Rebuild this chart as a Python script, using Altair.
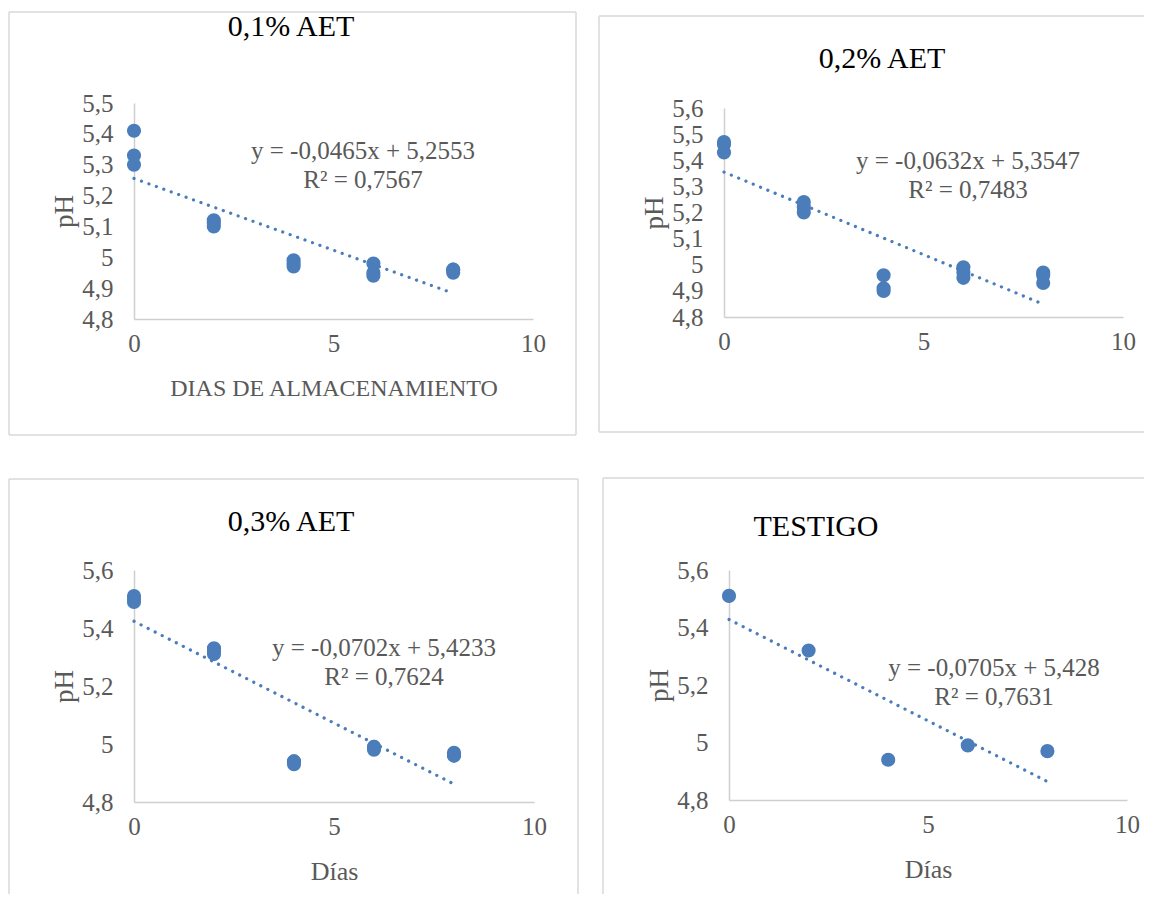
import altair as alt
import pandas as pd

# ---------------- data ----------------
days = [0, 2, 4, 6, 8]

ph_01 = [[5.41, 5.33, 5.30], [5.12, 5.11, 5.10], [4.99, 4.98, 4.97], [4.98, 4.95, 4.94], [4.96, 4.96, 4.95]]
ph_02 = [[5.47, 5.46, 5.43], [5.24, 5.22, 5.20], [4.96, 4.91, 4.90], [4.99, 4.97, 4.95], [4.97, 4.96, 4.93]]
ph_03 = [[5.51, 5.50, 5.49], [5.33, 5.32, 5.31], [4.94, 4.94, 4.93], [4.99, 4.99, 4.98], [4.97, 4.96, 4.96]]
ph_testigo = [[5.51], [5.32], [4.94], [4.99], [4.97]]

series = [ph_01, ph_02, ph_03, ph_testigo]
titles = ["0,1% AET", "0,2%  AET", "0,3% AET", "TESTIGO"]
slopes = [-0.0465, -0.0632, -0.0702, -0.0705]
intercepts = [5.2553, 5.3547, 5.4233, 5.428]
equations = ["y = -0,0465x + 5,2553", "y = -0,0632x + 5,3547",
             "y = -0,0702x + 5,4233", "y = -0,0705x + 5,428"]
r2_labels = ["R² = 0,7567", "R² = 0,7483", "R² = 0,7624", "R² = 0,7631"]
trend_x = [0, 8]
x_domain = [0, 10]
x_ticks = [0, 5, 10]
y_domains = [[4.8, 5.5], [4.8, 5.6], [4.8, 5.6], [4.8, 5.6]]
y_ticks = [
    [4.8, 4.9, 5.0, 5.1, 5.2, 5.3, 5.4, 5.5],
    [4.8, 4.9, 5.0, 5.1, 5.2, 5.3, 5.4, 5.5, 5.6],
    [4.8, 5.0, 5.2, 5.4, 5.6],
    [4.8, 5.0, 5.2, 5.4, 5.6],
]
x_titles = ["DIAS DE ALMACENAMIENTO", "", "Días", "Días"]
y_title = "pH"

# ---------------- style ----------------
FONT = "Liberation Serif"
PT = "#4a7dba"
GRAY = "#595959"
AXIS_LINE = "#cfcfcf"
BOX = "#d9d9d9"

dummy = pd.DataFrame({"a": [0]})


def seg(x1, x2, y1, y2):
    return alt.Chart(dummy).mark_rule(color=BOX, strokeWidth=1.5).encode(
        x=alt.value(x1), x2=alt.value(x2), y=alt.value(y1), y2=alt.value(y2))


def panel(i, w, h, yrange, box_segments, title_pos, eq_pos, xtitle_size):
    rows = []
    for d, vals in zip(days, series[i]):
        for v in vals:
            rows.append({"dia": d, "ph": v})
    df = pd.DataFrame(rows)
    trend = pd.DataFrame({"dia": trend_x,
                          "ph": [intercepts[i] + slopes[i] * t for t in trend_x]})

    scale_kw = dict(domain=y_domains[i], nice=False, zero=False)
    if yrange is not None:
        scale_kw["range"] = yrange
    yscale = alt.Scale(**scale_kw)
    xscale = alt.Scale(domain=x_domain, nice=False, zero=False)

    xaxis = alt.Axis(values=x_ticks, grid=False, ticks=False, domainColor=AXIS_LINE,
                     domainWidth=1.5, labelFont=FONT, labelFontSize=25, labelColor=GRAY,
                     labelPadding=12, labelBaseline="top", labelFlush=False,
                     labelOverlap=False, titleFont=FONT, titleFontSize=xtitle_size,
                     titleFontWeight="normal", titleColor=GRAY, titleY=69,
                     titleBaseline="middle")
    yaxis = alt.Axis(values=y_ticks[i], tickCount=len(y_ticks[i]), grid=False, ticks=False,
                     domainColor=AXIS_LINE,
                     domainWidth=1.5, labelFont=FONT, labelFontSize=25, labelColor=GRAY,
                     labelPadding=21, format=".1~f", labelFlush=False, labelOverlap=False,
                     labelExpr="replace(datum.label, '.', ',')",
                     titleFont=FONT, titleFontSize=27, titleFontWeight="normal",
                     titleColor=GRAY, titleX=-70, titleBaseline="middle", titleAngle=270)

    xt = x_titles[i] if x_titles[i] else None
    x_enc = alt.X("dia:Q", scale=xscale, title=xt, axis=xaxis)
    y_enc = alt.Y("ph:Q", scale=yscale, title=y_title, axis=yaxis)

    pts = alt.Chart(df).mark_circle(size=200, color=PT, opacity=1).encode(x=x_enc, y=y_enc)
    line = alt.Chart(trend).mark_line(color=PT, strokeWidth=3.2, strokeDash=[0.1, 7.8],
                                      strokeCap="round").encode(x=x_enc, y=y_enc)
    eq = alt.Chart(dummy).mark_text(font=FONT, fontSize=25, color=GRAY, align="center",
                                    baseline="alphabetic", lineBreak="\n",
                                    lineHeight=29).encode(
        x=alt.value(eq_pos[0]), y=alt.value(eq_pos[1]),
        text=alt.value(equations[i] + "\n" + r2_labels[i]))
    ttl = alt.Chart(dummy).mark_text(font=FONT, fontSize=30, color="#000000",
                                     align="center", baseline="alphabetic").encode(
        x=alt.value(title_pos[0]), y=alt.value(title_pos[1]), text=alt.value(titles[i]))

    layers = [pts, line] + [seg(*s) for s in box_segments] + [eq, ttl]
    return alt.layer(*layers).properties(width=w, height=h)


# panel 1 (top-left): plot at (133,102) in page
p1 = panel(0, 399, 216, None,
           [(-125, 442, -91, -91), (-125, 442, 332, 332), (-125, -125, -91, 332), (442, 442, -91, 332)],
           (157, -67), (229, 56), 24)
# panel 2 (top-right): plot origin at (723,102), y-range offset by 5px
p2 = panel(1, 399, 214, [214, 5],
           [(-125, 420, -87, -87), (-125, 420, 329, 329), (-125, -125, -87, 329)],
           (158, -35), (244, 66), 24)
# panel 3 (bottom-left): plot at (133,569)
p3 = panel(2, 400, 232, None,
           [(-125, 444, -91, -91), (-125, -125, -91, 324), (444, 444, -91, 324)],
           (157, -39), (250, 86), 26)
# panel 4 (bottom-right): plot at (728,569)
p4 = panel(3, 398, 230, None,
           [(-126, 415, -92, -92), (-126, -126, -92, 324)],
           (87, -34), (265, 106), 26)

top = alt.hconcat(p1, p2, spacing=191, bounds="flush")
bottom = alt.hconcat(p3, p4, spacing=195, bounds="flush")
chart = alt.vconcat(top, bottom, spacing=467, bounds="flush").configure_view(
    stroke=None).properties(padding={"left": 0, "top": 3, "right": 0, "bottom": 0},
                            background="white")

chart.save("out.html", embed_options={"renderer": "svg", "actions": False})
